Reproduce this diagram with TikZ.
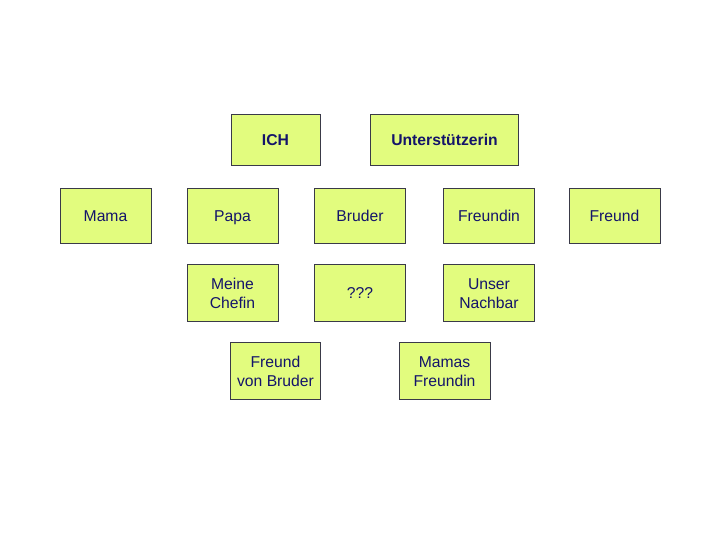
\documentclass[tikz,border=0pt]{standalone}
\usepackage{fontspec}
\setmainfont{Liberation Sans}
\definecolor{boxfill}{HTML}{E2FC7E}
\definecolor{boxtext}{HTML}{14146A}
\definecolor{boxline}{HTML}{3A3A48}
\newcommand\topstrut{\rule[-0.3\baselineskip]{0pt}{\dimexpr\baselineskip+5pt\relax}}
\newcommand\tst{\rule[-0.3\baselineskip]{0pt}{\dimexpr\baselineskip+6pt\relax}}
\newcommand\bst{\rule[-0.3\baselineskip]{0pt}{\baselineskip}}
\begin{document}
\begin{tikzpicture}[x=1pt,y=-1pt,
  box/.style={draw=boxline,line width=0.8pt,fill=boxfill,text=boxtext,
    align=center,font=\fontsize{15.7}{19}\selectfont,inner sep=0pt,
    execute at begin node=\topstrut,execute at end node=\strut},
  bold/.style={font=\fontsize{15.7}{19}\selectfont\bfseries}]
\useasboundingbox (0,0) rectangle (720,540);
% row 1
\node[box,bold,minimum width=89,minimum height=51] (ich) at (275.5,139.5) {ICH};
\node[box,bold,minimum width=148,minimum height=51] (unt) at (444.5,139.5) {Unterstützerin};
% row 2
\node[box,minimum width=91,minimum height=55] (mama) at (105.5,215.5) {Mama};
\node[box,minimum width=91,minimum height=55] (papa) at (232.5,215.5) {Papa};
\node[box,minimum width=91,minimum height=55] (bruder) at (360,215.5) {Bruder};
\node[box,minimum width=91,minimum height=55] (freundin) at (489,215.5) {Freundin};
\node[box,minimum width=91,minimum height=55] (freund) at (614.5,215.5) {Freund};
% row 3
\node[box,minimum width=91,minimum height=57] (chefin) at (232.5,292.5) {\tst Meine\\Chefin\bst};
\node[box,minimum width=91,minimum height=57] (qqq) at (360,292.5) {???};
\node[box,minimum width=91,minimum height=57] (nachbar) at (489,292.5) {\tst Unser\\Nachbar\bst};
% row 4
\node[box,minimum width=90,minimum height=57] (fvb) at (275.5,370.5) {\tst Freund\\von Bruder\bst};
\node[box,minimum width=91,minimum height=57] (mf) at (444.5,370.5) {\tst Mamas\\Freundin\bst};
\end{tikzpicture}
\end{document}
